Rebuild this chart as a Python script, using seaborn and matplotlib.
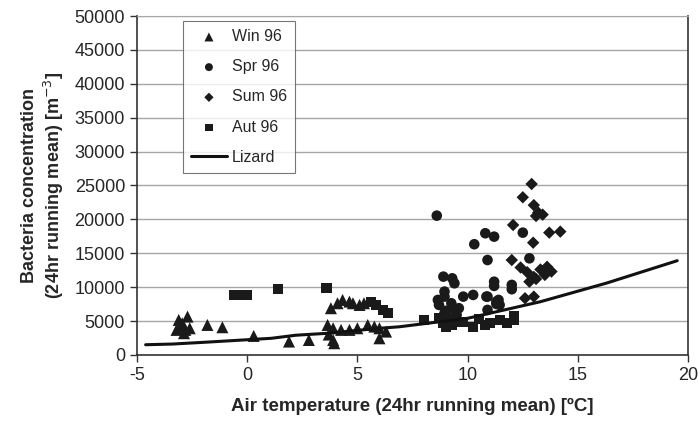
import matplotlib
matplotlib.use("Agg")
import matplotlib.pyplot as plt
import seaborn as sns

# Win 96 (triangles)
win_temp = [-3.1, -2.7, -3.0, -2.8, -3.2, -2.6, -2.86, -2.94, -1.8, -1.12,
            0.3, 1.9, 2.8, 3.8, 4.1, 4.33, 4.64, 4.8, 5.1, 5.3,
            3.65, 3.9, 4.26, 4.64, 5.0, 5.47, 5.77, 6.0, 6.3, 3.9, 3.95, 6.0, 3.7]
win_conc = [5160, 5650, 4180, 3690, 3690, 3930, 3200, 4670, 4420, 4080,
            2800, 1970, 2200, 6890, 7620, 8110, 7860, 7620, 7370, 7620,
            4420, 3930, 3690, 3690, 3930, 4420, 4180, 3930, 3440, 2200, 1720, 2450, 3000]

# Spr 96 (circles)
spr_temp = [8.6, 10.8, 11.2, 10.3, 10.9, 8.9, 9.3, 9.4, 8.95, 8.95,
            9.8, 10.25, 8.65, 8.7, 9.26, 9.33, 9.6, 10.9, 11.4, 11.45,
            8.95, 9.2, 9.5, 11.2, 11.2, 12.0, 12.0, 12.5, 12.8, 10.85,
            11.3, 11.3, 10.9, 9.0, 9.1]
spr_conc = [20550, 17950, 17450, 16330, 14000, 11550, 11300, 10570, 9340, 8600,
            8600, 8850, 8110, 7370, 7620, 6890, 6890, 8600, 8110, 7370,
            6150, 5410, 5900, 10800, 10180, 10330, 9690, 18040, 14250, 8600,
            7860, 7520, 6640, 6500, 5000]

# Sum 96 (diamonds)
sum_temp = [12.9, 12.5, 13.0, 13.2, 13.4, 13.1, 12.06, 13.7, 14.2, 12.97,
            12.0, 12.4, 12.7, 13.0, 13.3, 13.6, 13.8, 12.8, 13.1, 13.5, 12.6, 13.0]
sum_conc = [25220, 23260, 22100, 21000, 20700, 20500, 19170, 18040, 18190, 16560,
            14000, 12900, 12200, 11500, 12600, 13000, 12300, 10800, 11200, 11800, 8360, 8600]

# Aut 96 (squares)
aut_temp = [-0.6, -0.3, 0.0, 1.4, 3.6, 5.6, 5.85, 6.15, 6.38, 8.0,
            8.7, 8.9, 9.0, 9.3, 9.8, 10.25, 10.8, 11.0, 11.45, 11.8, 12.1, 9.5, 10.5, 12.1]
aut_conc = [8850, 8850, 8850, 9700, 9840, 7860, 7370, 6640, 6150, 5160,
            5410, 4670, 4180, 4420, 4910, 4180, 4420, 4670, 5160, 4670, 5160, 4900, 5300, 5800]

# Lizard model curve
lizard_temp = [-4.6, -3.4, -2.0, -0.7, 1.1, 2.2, 3.7, 5.9, 6.9, 10.0, 13.3, 16.3, 19.5]
lizard_conc = [1500, 1600, 1850, 2100, 2450, 2900, 3200, 3900, 4150, 5400, 7850, 10600, 13900]

sns.set_style("white")
plt.rcParams['font.family'] = ['Liberation Sans', 'DejaVu Sans']
plt.rcParams['axes.unicode_minus'] = False

fig = plt.figure(figsize=(6.98, 4.23), dpi=100)
ax = fig.add_axes([0.196, 0.161, 0.79, 0.801])

series = [
    (win_temp, win_conc, "^", "Win 96"),
    (spr_temp, spr_conc, "o", "Spr 96"),
    (sum_temp, sum_conc, "D", "Sum 96"),
    (aut_temp, aut_conc, "s", "Aut 96"),
]
sizes = {"^": 75, "o": 58, "D": 40, "s": 52}
for t, c, m, name in series:
    sns.scatterplot(x=t, y=c, marker=m, color="#1a1a1a", s=sizes[m],
                    edgecolor="none", label=name, ax=ax, zorder=3)

sns.lineplot(x=lizard_temp, y=lizard_conc, color="#111111", linewidth=2.2,
             label="Lizard", ax=ax, zorder=4)

ax.set_xlim(-5, 20)
ax.set_ylim(0, 50000)
ax.set_xticks(range(-5, 21, 5))
ax.set_yticks(range(0, 50001, 5000))
ax.yaxis.grid(True, color="#a6a6a6", linewidth=1.0)
ax.set_axisbelow(True)
ax.tick_params(axis="both", labelsize=13, length=5, width=1, direction="out",
               color="#333333", bottom=True, left=True)

for side in ["left", "bottom", "right"]:
    ax.spines[side].set_color("#333333")
    ax.spines[side].set_linewidth(1.2)
ax.spines["top"].set_color("#a6a6a6")

ax.set_xlabel("Air temperature (24hr running mean) [ºC]", fontsize=13.5,
              fontweight="bold", labelpad=10)
ax.set_ylabel("Bacteria concentration\n(24hr running mean) [m$^{-3}$]",
              fontsize=13, fontweight="bold", labelpad=6)

leg = ax.legend(loc="upper left", bbox_to_anchor=(0.083, 0.985), fontsize=11.5,
                frameon=True, fancybox=False, edgecolor="#555555",
                labelspacing=0.95, handlelength=2.3, handletextpad=0.3,
                markerscale=0.75, borderpad=0.5, borderaxespad=0)
leg.get_frame().set_linewidth(0.8)

fig.savefig("out.png", dpi=100)
